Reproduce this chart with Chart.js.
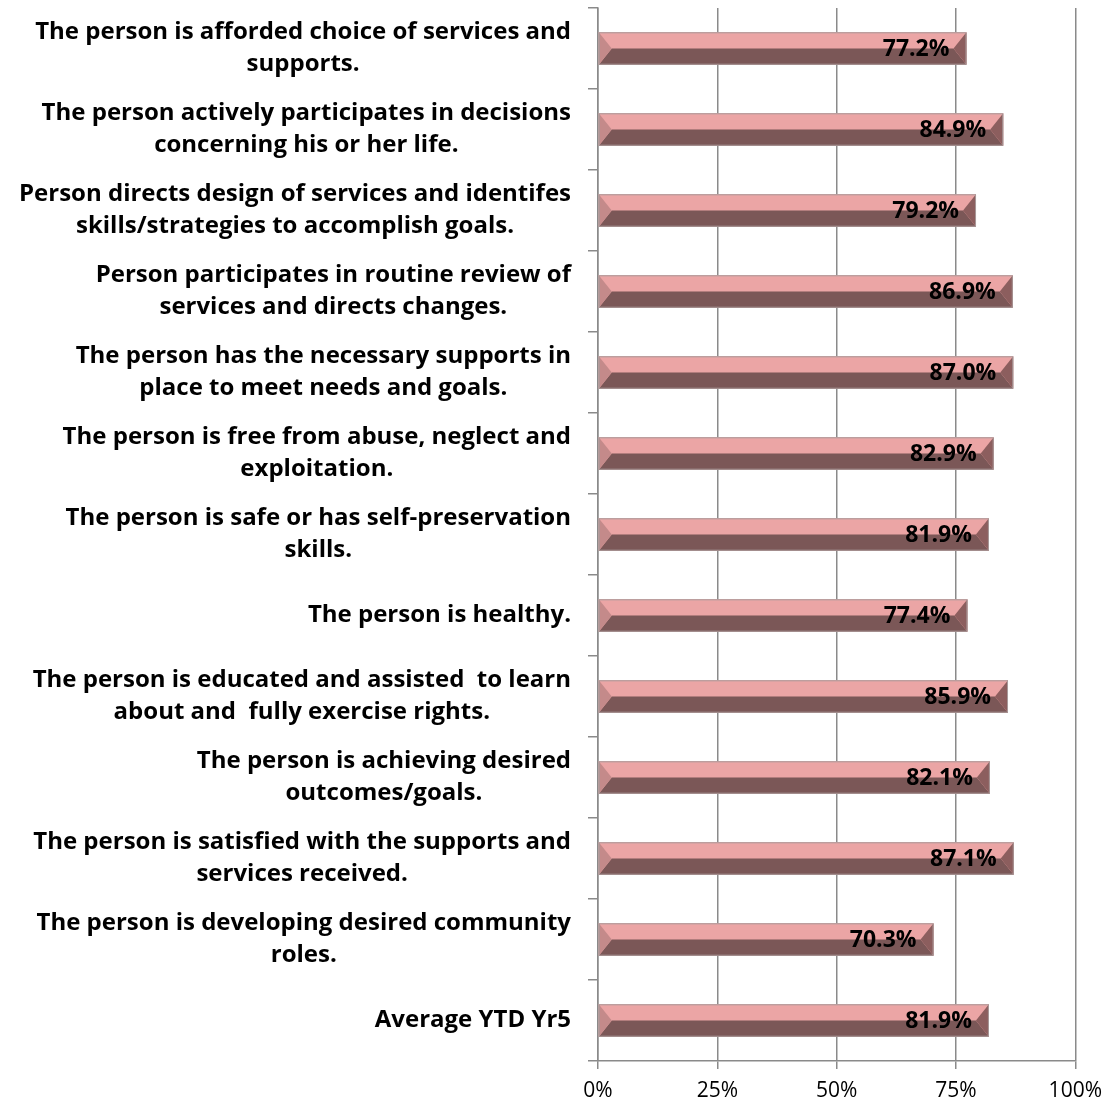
<!DOCTYPE html>
<html>
<head>
<meta charset="utf-8">
<script src="https://cdn.jsdelivr.net/npm/chart.js@4/dist/chart.umd.min.js"></script>
<style>
  html, body { margin: 0; padding: 0; background: #fff; }
  #wrap { width: 1111px; height: 1107px; }
</style>
</head>
<body>
<div id="wrap"><canvas id="chart" width="1111" height="1107"></canvas></div>
<script>
// --- data ---
const categories = [
  ['The person is afforded choice of services and', 'supports.'],
  ['The person actively participates in decisions', 'concerning his or her life.'],
  ['Person directs design of services and identifes', 'skills/strategies to accomplish goals.'],
  ['Person participates in routine review of', 'services and directs changes.'],
  ['The person has the necessary supports in', 'place to meet needs and goals.'],
  ['The person is free from abuse, neglect and', 'exploitation.'],
  ['The person is safe or has self-preservation', 'skills.'],
  ['The person is healthy.'],
  ['The person is educated and assisted  to learn', 'about and  fully exercise rights.'],
  ['The person is achieving desired', 'outcomes/goals.'],
  ['The person is satisfied with the supports and', 'services received.'],
  ['The person is developing desired community', 'roles.'],
  ['Average YTD Yr5']
];
const values = [77.2, 84.9, 79.2, 86.9, 87.0, 82.9, 81.9, 77.4, 85.9, 82.1, 87.1, 70.3, 81.9];
const xTicks = [0, 25, 50, 75, 100];

const FONT = '"Open Sans", Lato, sans-serif';
const GRID = '#8a8a8a';

// bevelled look of each bar: light top half, dark bottom half, shaded ends
const bevelBars = {
  id: 'bevelBars',
  afterDatasetDraw(chart, args) {
    const ctx = chart.ctx;
    args.meta.data.forEach(bar => {
      const x0 = bar.base, x1 = bar.x;
      const top = bar.y - bar.height / 2, bot = bar.y + bar.height / 2, mid = bar.y;
      const b = 13;
      const poly = (pts, color) => {
        ctx.beginPath();
        ctx.moveTo(pts[0][0], pts[0][1]);
        pts.slice(1).forEach(p => ctx.lineTo(p[0], p[1]));
        ctx.closePath();
        ctx.fillStyle = color;
        ctx.fill();
      };
      ctx.save();
      poly([[x0, top], [x1, top], [x1 - b, mid], [x0 + b, mid]], '#eba5a5');
      poly([[x0 + b, mid], [x1 - b, mid], [x1, bot], [x0, bot]], '#7b5757');
      poly([[x0, top], [x0 + b, mid], [x0, bot]], '#c48a8a');
      poly([[x1, top], [x1, bot], [x1 - b, mid]], '#8c5e5e');
      ctx.strokeStyle = '#a89a9a';
      ctx.lineWidth = 1;
      ctx.strokeRect(x0 + 0.5, top + 0.5, x1 - x0 - 1, bot - top - 1);
      ctx.restore();
    });
  }
};

// value labels inside the bar end, category labels left of the axis
const labelsPlugin = {
  id: 'labelsPlugin',
  afterDatasetsDraw(chart) {
    const ctx = chart.ctx;
    const meta = chart.getDatasetMeta(0);
    ctx.save();
    ctx.fillStyle = '#000';
    ctx.font = 'bold 23px ' + FONT;
    ctx.textAlign = 'right';
    ctx.textBaseline = 'middle';
    meta.data.forEach((bar, i) => {
      ctx.fillText(values[i].toFixed(1) + '%', bar.x - 17, bar.y + 1);
    });

    const yScale = chart.scales.y;
    const right = 571;
    const lh = 32;
    ctx.font = 'bold 24px ' + FONT;
    ctx.textAlign = 'center';
    categories.forEach((lines, i) => {
      const cy = yScale.getPixelForValue(i);
      const w = Math.max(...lines.map(l => ctx.measureText(l).width));
      const cx = right - w / 2;
      const y0 = cy - (lines.length - 1) * lh / 2;
      lines.forEach((l, j) => ctx.fillText(l, cx, y0 + j * lh));
    });
    ctx.restore();
  }
};

new Chart(document.getElementById('chart'), {
  type: 'bar',
  data: {
    labels: categories.map(c => c.join(' ')),
    datasets: [{
      data: values,
      backgroundColor: '#eba5a5',
      borderWidth: 0,
      categoryPercentage: 1,
      barPercentage: 0.4
    }]
  },
  options: {
    indexAxis: 'y',
    responsive: false,
    animation: false,
    layout: { padding: { top: 8, right: 32, left: 0, bottom: 0 } },
    plugins: { legend: { display: false }, tooltip: { enabled: false } },
    scales: {
      x: {
        min: 0,
        max: 100,
        afterBuildTicks: scale => { scale.ticks = xTicks.map(v => ({ value: v })); },
        afterFit: scale => { scale.height = 46; },
        ticks: {
          callback: v => v + '%',
          color: '#000',
          font: { family: FONT, size: 21 },
          padding: 9
        },
        grid: { color: GRID, lineWidth: 1.5, tickLength: 8 },
        border: { color: GRID, width: 1.5 }
      },
      y: {
        afterFit: scale => { scale.width = 598; },
        ticks: { display: false },
        grid: { drawOnChartArea: false, color: GRID, lineWidth: 1.5, tickLength: 10, offset: true },
        border: { color: GRID, width: 1.5 }
      }
    }
  },
  plugins: [bevelBars, labelsPlugin]
});
</script>
</body>
</html>
